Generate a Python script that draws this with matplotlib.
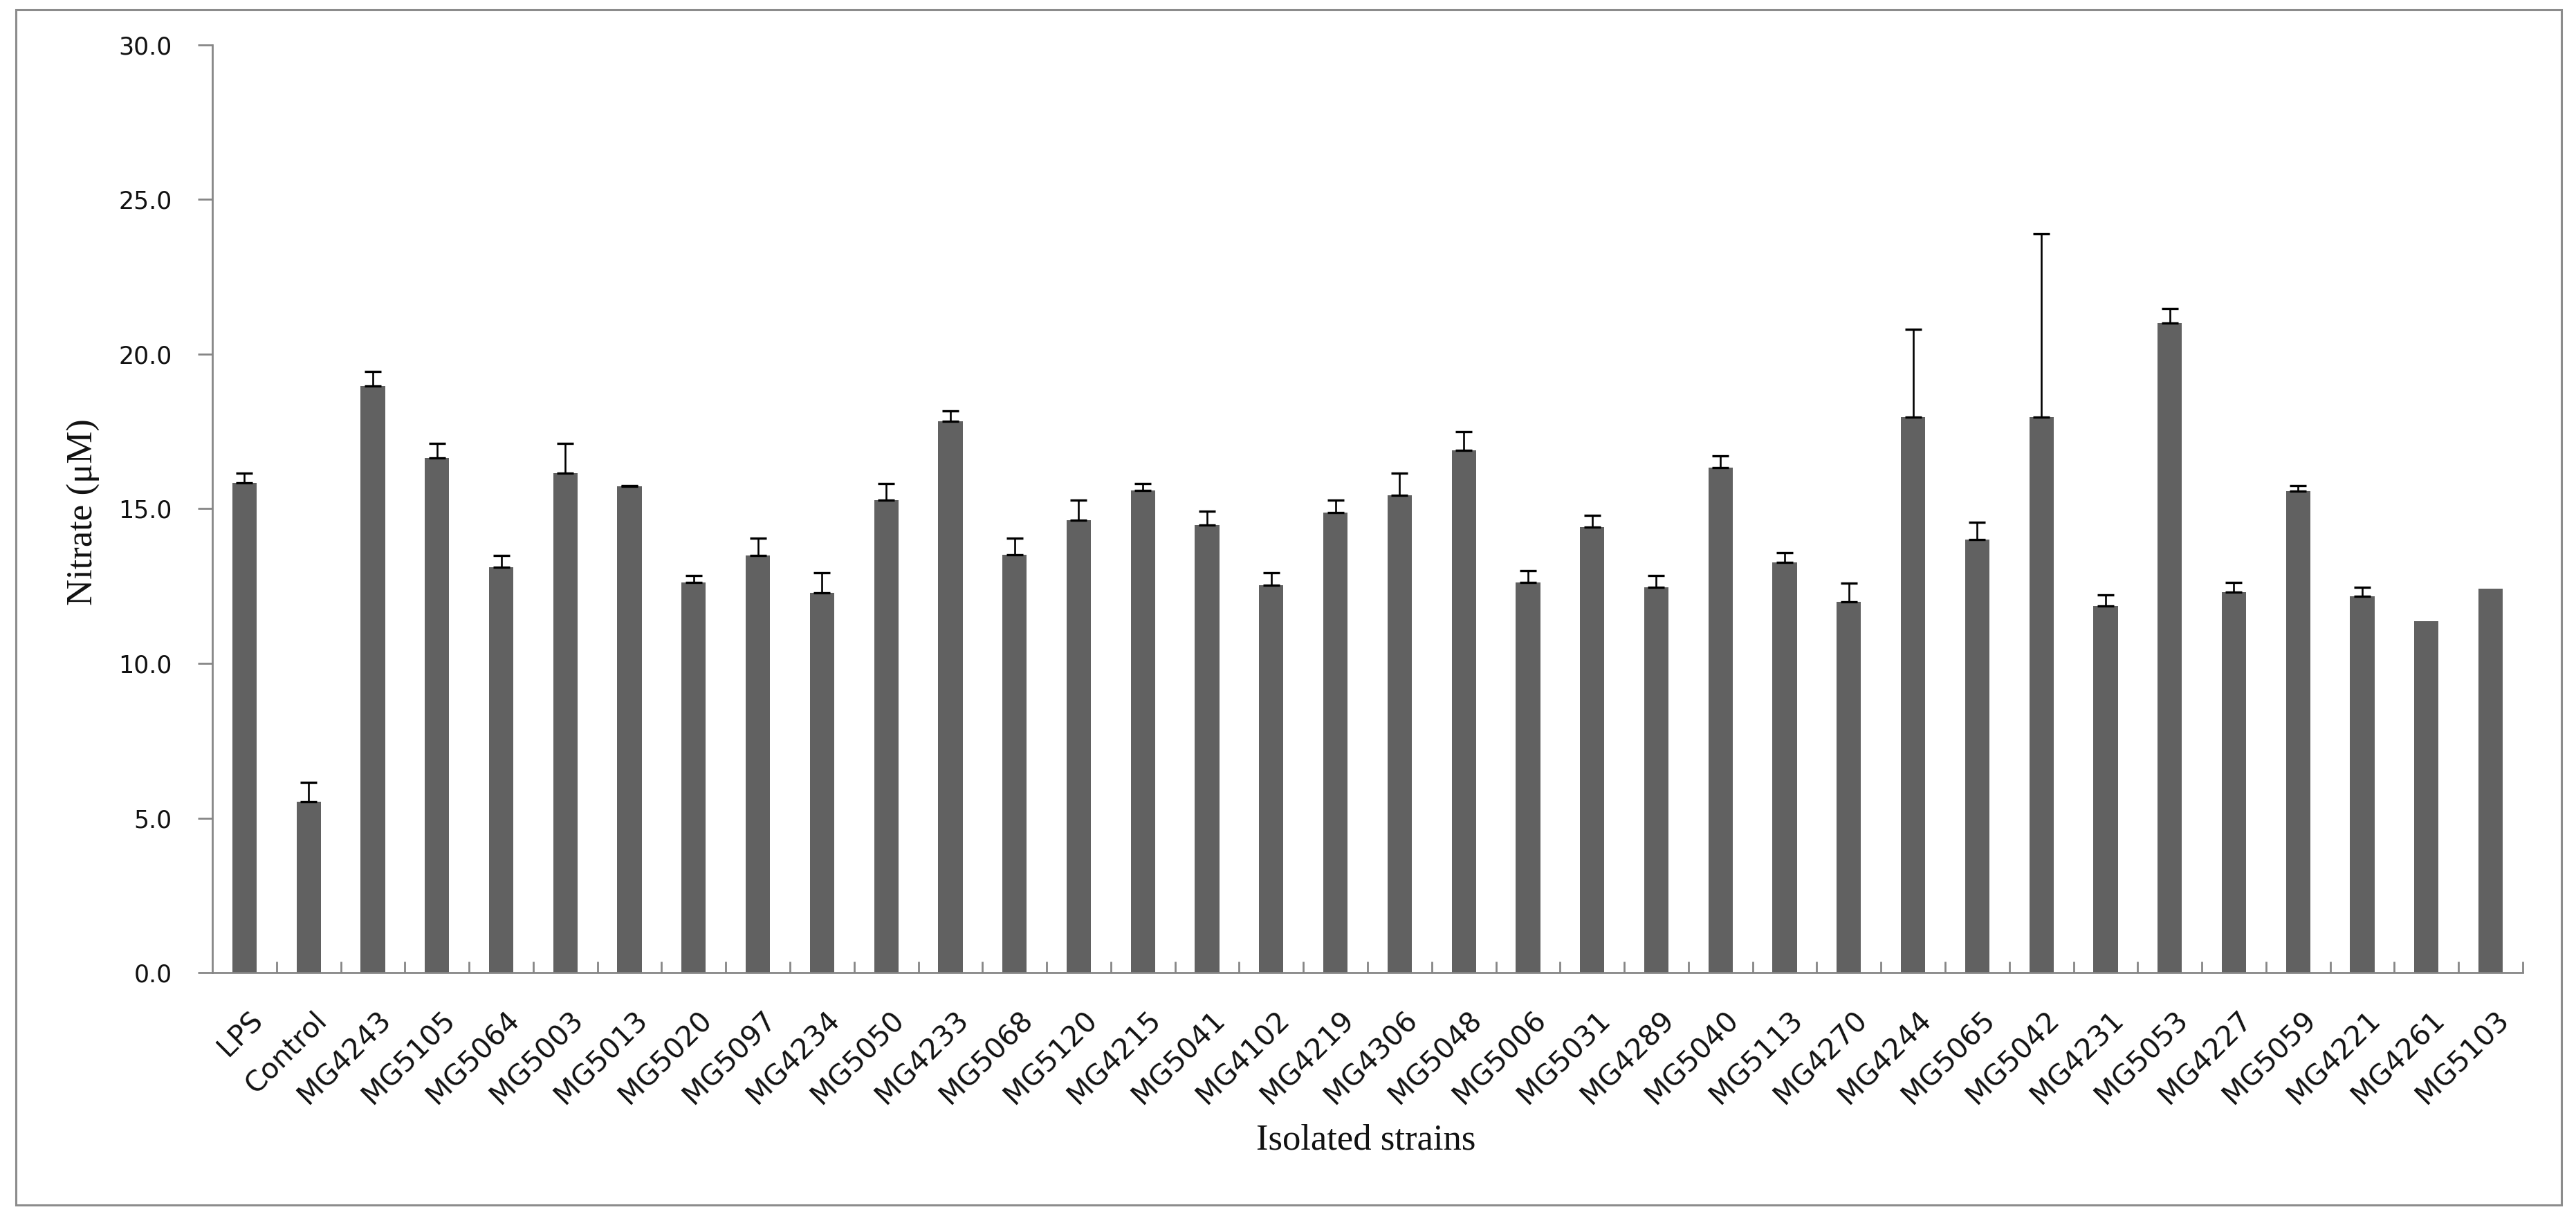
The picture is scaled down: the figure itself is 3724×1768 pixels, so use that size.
import numpy as np
import matplotlib
matplotlib.use("Agg")
import matplotlib.pyplot as plt
from matplotlib.transforms import ScaledTranslation
from matplotlib.patches import Rectangle

categories = ["LPS", "Control", "MG4243", "MG5105", "MG5064", "MG5003", "MG5013",
              "MG5020", "MG5097", "MG4234", "MG5050", "MG4233", "MG5068", "MG5120",
              "MG4215", "MG5041", "MG4102", "MG4219", "MG4306", "MG5048", "MG5006",
              "MG5031", "MG4289", "MG5040", "MG5113", "MG4270", "MG4244", "MG5065",
              "MG5042", "MG4231", "MG5053", "MG4227", "MG5059", "MG4221", "MG4261",
              "MG5103"]
nitrate = [15.85, 5.53, 18.98, 16.65, 13.11, 16.15, 15.73,
           12.61, 13.50, 12.29, 15.27, 17.84, 13.51, 14.63,
           15.60, 14.48, 12.53, 14.88, 15.43, 16.88, 12.61,
           14.40, 12.45, 16.33, 13.27, 11.99, 17.97, 14.00,
           17.97, 11.85, 21.00, 12.30, 15.56, 12.17, 11.36,
           12.41]
errors = [0.31, 0.62, 0.47, 0.46, 0.37, 0.96, 0.03,
          0.23, 0.55, 0.63, 0.55, 0.32, 0.54, 0.64,
          0.22, 0.45, 0.39, 0.39, 0.72, 0.62, 0.39,
          0.39, 0.39, 0.38, 0.32, 0.61, 2.83, 0.56,
          5.93, 0.36, 0.47, 0.31, 0.20, 0.29, 0.0,
          0.0]
yticks = [0, 5, 10, 15, 20, 25, 30]

DPI = 100
fig = plt.figure(figsize=(37.24, 17.68), dpi=DPI)
fig.patch.set_facecolor("white")

# outer frame
fig.patches.append(Rectangle((0.0062, 0.0147), 0.9882, 0.9774, transform=fig.transFigure,
                             fill=False, edgecolor="#8c8c8c", linewidth=2.2))

ax = fig.add_axes([0.08244, 0.20475, 0.89688, 0.75849])
x = np.arange(len(categories))
vals = np.array(nitrate)
errs = np.array(errors)

ax.bar(x, vals, width=0.38, color="#616161", edgecolor="none", zorder=2)
mask = errs > 0
ax.errorbar(x[mask], vals[mask], yerr=[np.zeros(mask.sum()), errs[mask]],
            fmt="none", ecolor="black", elinewidth=1.9, capsize=8.5, capthick=2.4, zorder=3)

ax.set_xlim(-0.5, len(categories) - 0.5)
ax.set_ylim(0, 30)

for s in ["top", "right"]:
    ax.spines[s].set_visible(False)
for s in ["left", "bottom"]:
    ax.spines[s].set_color("#868686")
    ax.spines[s].set_linewidth(2.0)

ax.set_yticks(yticks)
ax.set_yticklabels([f"{v:.1f}" for v in yticks], fontsize=25, color="#111111",
                   family="DejaVu Sans")
ax.tick_params(axis="y", direction="out", length=15, width=2.0, color="#868686", pad=27)

ax.set_xticks(x)
ax.set_xticks(np.arange(0.5, len(categories), 1.0), minor=True)
ax.tick_params(axis="x", which="major", length=0, pad=35)
ax.tick_params(axis="x", which="minor", direction="in", length=11.5, width=2.0, color="#868686")
ax.set_xticklabels(categories, rotation=45, ha="right", va="top", rotation_mode="anchor",
                   fontsize=29.5, color="#111111", family="DejaVu Sans")
offset = ScaledTranslation(6 / DPI, 0, fig.dpi_scale_trans)
for lab in ax.get_xticklabels():
    lab.set_transform(lab.get_transform() + offset)

fig.text(1975 / 3724, 1 - 1648 / 1768, "Isolated strains", ha="center", va="center",
         fontsize=38, family="Liberation Serif", color="#111111")
fig.text(121 / 3724, 1 - 740 / 1768, "Nitrate (\u03bcM)", ha="center", va="center",
         rotation=90, fontsize=38, family="Liberation Serif", color="#111111")

fig.savefig("out.png", dpi=DPI, facecolor="white")
